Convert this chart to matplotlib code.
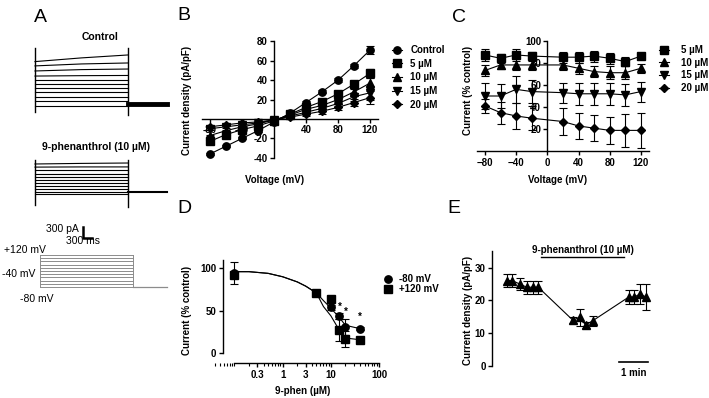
import matplotlib
matplotlib.use("Agg")
import matplotlib.pyplot as plt
from matplotlib.ticker import LogLocator, NullFormatter

plt.rcParams['font.family'] = ['Liberation Sans', 'DejaVu Sans']
plt.rcParams['font.weight'] = 'bold'
plt.rcParams['font.size'] = 7
plt.rcParams['axes.linewidth'] = 1.0

# ---------------- data ----------------
# A: current traces (pA) at start / middle / end of the 3 s step
steps_mv = [-80, -60, -40, -20, 0, 20, 40, 60, 80, 100, 120]
trace_ms = [0, 1500, 3000]
ctrl_start = [-50, 75, 190, 295, 410, 510, 615, 715, 845, 975, 1085]
ctrl_mid = [-50, 75, 190, 295, 410, 510, 615, 725, 880, 1025, 1180]
ctrl_end = [-50, 75, 190, 295, 410, 510, 615, 730, 895, 1050, 1255]
phen_start = [-70, 0, 70, 145, 225, 300, 375, 455, 545, 630, 710]
phen_mid = [-70, 0, 70, 145, 225, 300, 375, 455, 545, 635, 725]
phen_end = [-70, 0, 70, 145, 225, 300, 375, 455, 545, 635, 735]
ctrl_transient = [(-200, 1425), (-280, 1430)]
phen_transient = [(-340, 810), (-385, 815)]
tail_ms = [3000, 4250]
proto_ms = [0, 3000, 4100]

# B: I-V relationship
iv_mv = [-80, -60, -40, -20, 0, 20, 40, 60, 80, 100, 120]
iv_ctrl = [-36, -28, -20, -12, -3, 6, 17, 28, 40, 55, 71]
iv_5 = [-23, -16, -11, -7, -2, 5, 12, 18, 26, 36, 47]
iv_10 = [-17, -12, -8, -5, -1, 4, 10, 14, 20, 28, 37]
iv_15 = [-10, -8, -6, -4, -1, 3, 7, 11, 16, 23, 27]
iv_20 = [-8, -6, -4, -3, -1, 2, 5, 8, 12, 17, 22]
iv_ctrl_err = [1, 1, 1, 1, 1, 1, 1.5, 1.5, 2, 2, 4]
iv_5_err = [1, 1, 1, 1, 1, 1, 1.5, 2, 2, 3, 5]
iv_10_err = [1, 1, 1, 1, 1, 1, 1.5, 2, 2.5, 3, 5]
iv_15_err = [1, 1, 1, 1, 1, 1, 2, 2.5, 3, 4, 7]
iv_20_err = [1, 1, 1, 1, 1, 1, 2, 2.5, 3, 4, 7]

# C: current as % of control
pc_mv = [-80, -60, -40, -20, 20, 40, 60, 80, 100, 120]
pc_5 = [87, 84, 87, 86, 85, 85, 86, 84, 81, 86]
pc_10 = [73, 78, 78, 78, 78, 75, 72, 71, 71, 75]
pc_15 = [50, 50, 56, 54, 53, 52, 52, 52, 51, 54]
pc_20 = [41, 35, 32, 30, 27, 23, 21, 19, 19, 19]
pc_5_err = [5, 4, 5, 4, 5, 5, 5, 5, 4, 3]
pc_10_err = [5, 4, 5, 5, 5, 5, 5, 6, 6, 4]
pc_15_err = [12, 11, 12, 10, 9, 10, 10, 10, 10, 9]
pc_20_err = [6, 10, 12, 11, 12, 12, 12, 12, 15, 16]

# D: concentration-response
conc = [0.1, 5, 10, 15, 20, 40]
dr_m80 = [94, 71, 54, 44, 31, 29]
dr_p120 = [92, 71, 64, 27, 17, 16]
dr_m80_err = [13, 4, 3, 4, 9, 2]
dr_p120_err = [4, 4, 3, 13, 9, 2]
fit_conc = [0.1, 0.2, 0.5, 1, 2, 3, 5, 7, 10, 15, 20, 40]
fit_m80 = [96, 96, 94, 90, 84, 79, 71, 62, 53, 42, 33, 29]
fit_p120 = [96, 96, 94, 90, 84, 79, 71, 55, 44, 27, 18, 16]
star_conc = [15, 20, 40]
star_pct = [55, 49, 43]

# E: time course (min)
tc_min = [0, 0.2, 0.45, 0.7, 0.9, 1.1, 2.3, 2.55, 2.75, 3.0, 4.25, 4.45, 4.65, 4.85]
tc_dens = [26, 26, 25, 24, 24, 24, 14, 14.8, 12.5, 13.8, 21, 21, 22, 21]
tc_err = [2, 2, 1.8, 2, 2, 2, 1, 2.5, 1, 1.5, 2.2, 2.2, 3, 4]
drug_min = [1.19, 4.09]

W, H = 709, 398
fig = plt.figure(figsize=(W / 100, H / 100), dpi=100)


def px_axes(x0, y0, x1, y1):
    return fig.add_axes([x0 / W, 1 - y1 / H, (x1 - x0) / W, (y1 - y0) / H])


def ftext(x, y, s, **kw):
    kw.setdefault('ha', 'center')
    kw.setdefault('va', 'center')
    fig.text(x / W, 1 - y / H, s, **kw)


ebkw = dict(color='k', lw=0.8, ms=5, capsize=3, elinewidth=0.8, capthick=0.8)

# ---------------- A ----------------
axA1 = px_axes(30, 45, 170, 120)
axA1.set_xlim(-161, 4355)
axA1.set_ylim(-410, 1510)
for s, m, e in zip(ctrl_start, ctrl_mid, ctrl_end):
    axA1.plot(trace_ms, [s, m, e], color='k', lw=0.8)
for t, (lo, hi) in zip([0, 3000], ctrl_transient):
    axA1.plot([t, t], [lo, hi], color='k', lw=1)
axA1.plot(tail_ms, [0, 0], color='k', lw=3.5)
axA1.axis('off')

axA2 = px_axes(30, 155, 170, 210)
axA2.set_xlim(-161, 4355)
axA2.set_ylim(-468, 940)
for s, m, e in zip(phen_start, phen_mid, phen_end):
    axA2.plot(trace_ms, [s, m, e], color='k', lw=0.8)
for t, (lo, hi) in zip([0, 3000], phen_transient):
    axA2.plot([t, t], [lo, hi], color='k', lw=1)
axA2.plot(tail_ms, [0, 0], color='k', lw=1.5)
axA2.axis('off')

# scale bar
axS = px_axes(30, 215, 170, 245)
axS.set_xlim(-161, 4355)
axS.set_ylim(-171, 596)
axS.plot([1548, 1548, 1848], [300, 0, 0], color='k', lw=1.8)
axS.axis('off')
ftext(79, 229, '300 pA', ha='right', weight='normal', fontsize=7.5)
ftext(83, 241, '300 ms', weight='normal', fontsize=7.5)

# voltage protocol
axP = px_axes(35, 250, 175, 292)
axP.set_xlim(-161, 4355)
axP.set_ylim(-111, 151)
for v in steps_mv:
    axP.plot(proto_ms[:2], [v, v], color='0.55', lw=0.7)
axP.plot([0, 0], [steps_mv[0], steps_mv[-1]], color='0.55', lw=0.7)
axP.plot([3000, 3000], [steps_mv[0], steps_mv[-1]], color='0.55', lw=0.7)
axP.plot(proto_ms[1:], [-80, -80], color='0.55', lw=0.9)
axP.axis('off')
ftext(46, 250, '+120 mV', ha='right', weight='normal', fontsize=7.5)
ftext(35, 274, '-40 mV', ha='right', weight='normal', fontsize=7.5)
ftext(37, 299, '-80 mV', weight='normal', fontsize=7.5)

ftext(100, 37, 'Control', fontsize=7.5)
ftext(96, 147, '9-phenanthrol (10 µM)', fontsize=7.5)


def style_axes(ax):
    ax.spines[['top', 'right']].set_visible(False)
    ax.set_axisbelow(True)
    for sp in ax.spines.values():
        sp.set_zorder(0.6)
    ax.tick_params(direction='out', length=3, width=1, labelsize=7, pad=1.5)


# ---------------- B ----------------
axB = px_axes(198, 36.5, 382, 162.7)
axB.set_xlim(-95, 135)
axB.set_ylim(-45, 85)
for lab, vals, err, mk in [('Control', iv_ctrl, iv_ctrl_err, 'o'),
                           ('5 µM', iv_5, iv_5_err, 's'),
                           ('10 µM', iv_10, iv_10_err, '^'),
                           ('15 µM', iv_15, iv_15_err, 'v'),
                           ('20 µM', iv_20, iv_20_err, 'D')]:
    axB.errorbar(iv_mv, vals, yerr=err, marker=mk, label=lab,
                 **dict(ebkw, ms=4.5 if mk == 'D' else 5.3))
style_axes(axB)
axB.spines['left'].set_position(('data', 0))
axB.spines['bottom'].set_position(('data', 0))
axB.spines['left'].set_bounds(-40, 80)
axB.spines['bottom'].set_bounds(-90, 130)
axB.set_xticks([-80, -40, 0, 40, 80, 120], ['-80', '-40', '', '40', '80', '120'])
axB.set_yticks([-40, -20, 0, 20, 40, 60, 80], ['-40', '-20', '', '20', '40', '60', '80'])
hB, lB = axB.get_legend_handles_labels()
axB.legend([h[0] for h in hB], lB, loc='upper left', bbox_to_anchor=(392 / W, 1 - 45 / H),
           bbox_transform=fig.transFigure, frameon=False, fontsize=7, handlelength=1,
           handletextpad=0.9, labelspacing=0.38, borderaxespad=0, borderpad=0)
ftext(187, 100, 'Current density (pA/pF)', rotation=90, fontsize=7)
ftext(275, 180, 'Voltage (mV)', fontsize=7)

# ---------------- C ----------------
axC = px_axes(473.2, 35, 652.6, 157)
axC.set_xlim(-95, 135)
axC.set_ylim(-5, 105)
for lab, vals, err, mk in [('5 µM', pc_5, pc_5_err, 's'),
                           ('10 µM', pc_10, pc_10_err, '^'),
                           ('15 µM', pc_15, pc_15_err, 'v'),
                           ('20 µM', pc_20, pc_20_err, 'D')]:
    axC.errorbar(pc_mv, vals, yerr=err, marker=mk, label=lab,
                 **dict(ebkw, ms=4.5 if mk == 'D' else 5.3))
style_axes(axC)
axC.spines['left'].set_position(('data', 0))
axC.spines['bottom'].set_position(('data', 0))
axC.spines['left'].set_bounds(0, 100)
axC.spines['bottom'].set_bounds(-90, 130)
axC.set_xticks([-80, -40, 0, 40, 80, 120])
axC.set_yticks([20, 40, 60, 80, 100])
hC, lC = axC.get_legend_handles_labels()
axC.legend([h[0] for h in hC], lC, loc='upper left', bbox_to_anchor=(659 / W, 1 - 45 / H),
           bbox_transform=fig.transFigure, frameon=False, fontsize=7, handlelength=1,
           handletextpad=1.3, labelspacing=0.28, borderaxespad=0, borderpad=0)
ftext(468, 90, 'Current (% control)', rotation=90, fontsize=7)
ftext(558, 180, 'Voltage (mV)', fontsize=7)

# ---------------- D ----------------
axD = px_axes(215, 255, 385, 370)
axD.set_xscale('log')
axD.set_xlim(0.0394, 132.5)
axD.set_ylim(-19.6, 115.6)
axD.plot(fit_conc, fit_m80, color='k', lw=0.8)
axD.plot(fit_conc, fit_p120, color='k', lw=0.8)
axD.errorbar(conc, dr_m80, yerr=dr_m80_err, marker='o', ls='none', label='-80 mV',
             **dict(ebkw, ms=5.3))
axD.errorbar(conc, dr_p120, yerr=dr_p120_err, marker='s', ls='none', label='+120 mV',
             **dict(ebkw, ms=5.3))
for c, p in zip(star_conc, star_pct):
    axD.text(c, p, '*', ha='center', va='center', fontsize=7)
style_axes(axD)
axD.spines['left'].set_position(('data', 0.057))
axD.spines['bottom'].set_position(('data', -11.8))
axD.spines['left'].set_bounds(0, 110)
axD.spines['bottom'].set_bounds(0.1, 100)
axD.set_yticks([0, 50, 100])
axD.set_xticks([0.3, 1, 3, 10, 100], ['0.3', '1', '3', '10', '100'])
axD.xaxis.set_minor_locator(LogLocator(base=10, subs=range(1, 10)))
axD.xaxis.set_minor_formatter(NullFormatter())
axD.tick_params(axis='x', which='minor', length=2, width=0.8)
hD, lD = axD.get_legend_handles_labels()
axD.legend([h[0] for h in hD], lD, loc='upper left', bbox_to_anchor=(383 / W, 1 - 274 / H),
           bbox_transform=fig.transFigure, frameon=False, fontsize=7, handlelength=1,
           handletextpad=0.6, labelspacing=0.05, borderaxespad=0, borderpad=0)
ftext(187, 310, 'Current (% control)', rotation=90, fontsize=7)
ftext(303, 391, '9-phen (µM)', fontsize=7)

# ---------------- E ----------------
axE = px_axes(480, 240, 670, 380)
axE.set_xlim(-0.93, 5.69)
axE.set_ylim(-4.27, 38.4)
axE.errorbar(tc_min, tc_dens, yerr=tc_err, marker='^', **dict(ebkw, ms=5.2))
style_axes(axE)
axE.spines['bottom'].set_visible(False)
axE.spines['left'].set_position(('data', -0.52))
axE.spines['left'].set_bounds(0, 35)
axE.set_xticks([])
axE.set_yticks([0, 10, 20, 30])
axE.plot(drug_min, [33.1, 33.1], color='k', lw=1)
axE.text(sum(drug_min) / 2, 35.2, '9-phenanthrol (10 µM)', ha='center', va='center', fontsize=7)
axE.plot([3.91, 4.91], [1.1, 1.1], color='k', lw=1.2)
axE.text(4.41, -2.0, '1 min', ha='center', va='center', fontsize=7)
ftext(468, 310, 'Current density (pA/pF)', rotation=90, fontsize=7)

# panel letters
for letter, x, y in [('A', 40, 17), ('B', 184, 15), ('C', 459, 17), ('D', 184, 208), ('E', 454, 208)]:
    ftext(x, y, letter, fontsize=14, weight='normal')

fig.savefig('out.png', dpi=100)
